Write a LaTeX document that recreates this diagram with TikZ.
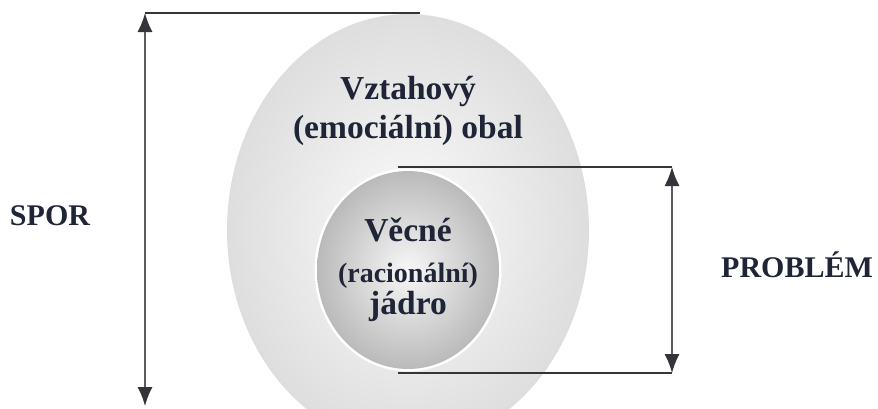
\documentclass[tikz,border=0pt]{standalone}
\usepackage{fontspec}
\setmainfont{Liberation Serif}
\usepackage{tikz}
\usetikzlibrary{arrows.meta}
\usepackage{xcolor}

\definecolor{inkblue}{HTML}{1F2536}
\definecolor{lineGrey}{HTML}{34353A}
\definecolor{arrowGrey}{HTML}{5A5C61}

\tikzset{
	dimline/.style={draw=lineGrey, line width=2.6pt},
	dimarrow/.style={draw=arrowGrey, line width=1.4pt,
		{Latex[length=19pt,width=15pt,color=lineGrey]}-{Latex[length=19pt,width=15pt,color=lineGrey]}},
	bigtext/.style={text=inkblue, font=\bfseries\fontsize{33.5}{36}\selectfont, anchor=base, inner sep=0pt},
	smalltext/.style={text=inkblue, font=\bfseries\fontsize{28}{30}\selectfont, anchor=base, inner sep=0pt},
	sidetext/.style={text=inkblue, font=\bfseries\fontsize{30}{34}\selectfont, anchor=base, inner sep=0pt}
}

\begin{document}
\begin{tikzpicture}[x=1pt, y=-1pt]
	\useasboundingbox (0,0) rectangle (878,408);
	\clip (0,0) rectangle (878,408);
	% outer shell and inner core
	\shade[inner color=white!97!gray, outer color=black!13] (408,230) ellipse [x radius=181pt, y radius=216pt];
	\draw[white, line width=3pt] (408,270) ellipse [x radius=92pt, y radius=100pt];
	\shade[inner color=white!94!gray, outer color=black!27] (408,270) ellipse [x radius=91pt, y radius=99pt];

	\coordinate (sporTop) at (145,13);
	\coordinate (sporEnd) at (420,13);
	\coordinate (sporBot) at (145,406);
	\coordinate (probTop) at (672,167);
	\coordinate (probTopL) at (398,167);
	\coordinate (probBot) at (672,373);
	\coordinate (probBotL) at (398,373);

	\draw[dimline] (sporEnd) -- (sporTop);
	\draw[dimarrow] (sporBot) -- (sporTop);
	\draw[dimline] (probTopL) -- (probTop);
	\draw[dimline] (probBotL) -- (probBot);
	\draw[dimarrow] (probBot) -- (probTop);

	\node[bigtext] (vztah) at (408,99) {Vztahový};
	\node[bigtext] (emoc) at (408,138) {(emociální) obal};
	\node[bigtext] (vecne) at (408,241) {Věcné};
	\node[smalltext] (racio) at (408,282) {(racionální)};
	\node[bigtext] (jadro) at (408,314) {jádro};
	\node[sidetext] (spor) at (50,225) {SPOR};
	\node[sidetext] (problem) at (797,277) {PROBLÉM};
\end{tikzpicture}
\end{document}
